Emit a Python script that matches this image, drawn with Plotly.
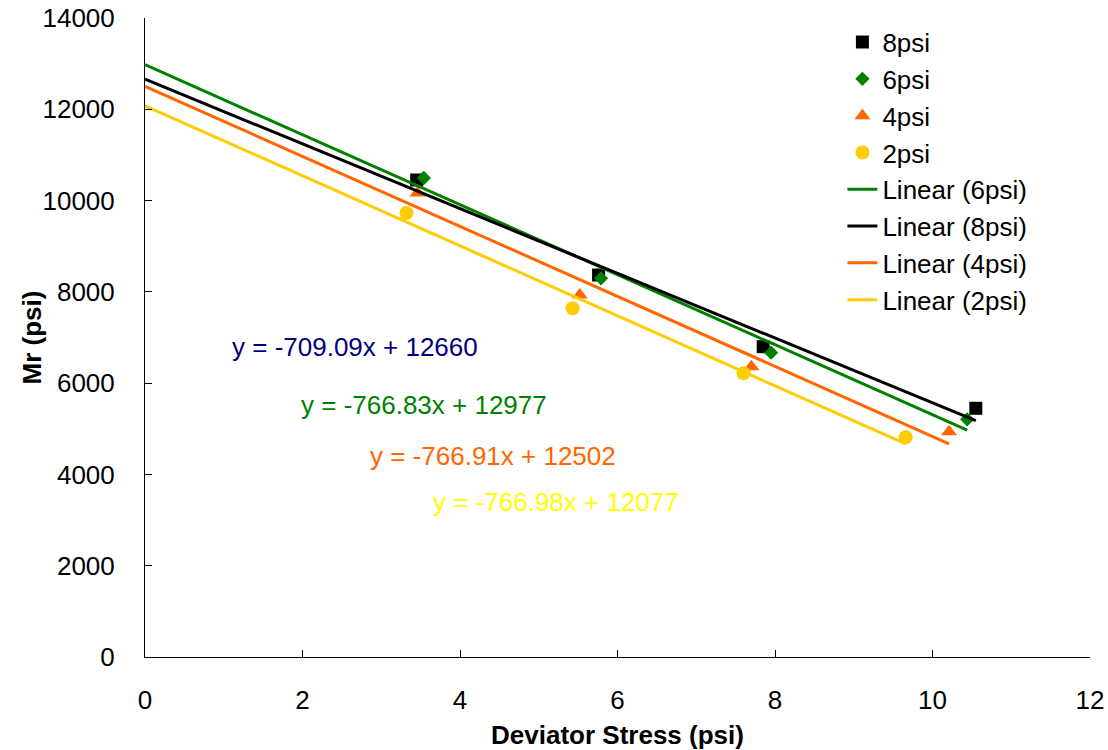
import plotly.graph_objects as go

# ---- data ----
x_8psi = [3.45, 5.76, 7.85, 10.55]
y_8psi = [10451, 8369, 6798, 5449]
x_6psi = [3.54, 5.79, 7.95, 10.44]
y_6psi = [10494, 8297, 6667, 5208]
x_4psi = [3.46, 5.52, 7.70, 10.21]
y_4psi = [10166, 7931, 6361, 4937]
x_2psi = [3.32, 5.43, 7.60, 9.66]
y_2psi = [9727, 7640, 6216, 4813]

series_names = ["8psi", "6psi", "4psi", "2psi"]
slopes = {"8psi": -709.09, "6psi": -766.83, "4psi": -766.91, "2psi": -766.98}
intercepts = {"8psi": 12660, "6psi": 12977, "4psi": 12502, "2psi": 12077}

x_ticks = [0, 2, 4, 6, 8, 10, 12]
y_ticks = [0, 2000, 4000, 6000, 8000, 10000, 12000, 14000]

FONT = "Arial, 'Liberation Sans', sans-serif"
FS = 26
colors = {"8psi": "#000000", "6psi": "#008000", "4psi": "#FF6600", "2psi": "#FFCC00"}
symbols = {"8psi": "square", "6psi": "diamond", "4psi": "triangle-up", "2psi": "circle"}
msizes = {"8psi": 13, "6psi": 11, "4psi": 14, "2psi": 14}
eq_colors = {"8psi": "#000080", "6psi": "#008000", "4psi": "#FF6600", "2psi": "#FFFF00"}
eq_pos = {"8psi": (2.667, 6792), "6psi": (3.543, 5521), "4psi": (4.419, 4404), "2psi": (5.219, 3396)}

data = {"8psi": (x_8psi, y_8psi), "6psi": (x_6psi, y_6psi),
        "4psi": (x_4psi, y_4psi), "2psi": (x_2psi, y_2psi)}

fig = go.Figure()
for name in series_names:
    xs, ys = data[name]
    fig.add_trace(go.Scatter(
        x=xs, y=ys, mode="markers", name=name,
        marker=dict(symbol=symbols[name], size=msizes[name], color=colors[name],
                    line=dict(width=0)),
    ))

for name in ["6psi", "8psi", "4psi", "2psi"]:
    xs, _ = data[name]
    lx = [0, max(xs)]
    ly = [slopes[name] * v + intercepts[name] for v in lx]
    fig.add_trace(go.Scatter(
        x=lx, y=ly, mode="lines", name=f"Linear ({name})",
        line=dict(color=colors[name], width=3),
    ))

for name in series_names:
    ex, ey = eq_pos[name]
    sign = "+" if intercepts[name] >= 0 else "-"
    txt = f"y = {slopes[name]:.2f}x {sign} {abs(intercepts[name])}"
    fig.add_annotation(x=ex, y=ey, xref="x", yref="y", text=txt, showarrow=False,
                       font=dict(family=FONT, size=FS, color=eq_colors[name]),
                       xanchor="center", yanchor="middle")

# y-axis title placed as rotated text
fig.add_annotation(x=-0.1196, y=0.5, xref="paper", yref="paper", text="<b>Mr (psi)</b>",
                   textangle=-90, showarrow=False, xanchor="center", yanchor="middle",
                   font=dict(family=FONT, size=FS, color="black"))

fig.update_layout(
    width=1108, height=750,
    margin=dict(l=145, r=18, t=18, b=93, autoexpand=False),
    paper_bgcolor="white", plot_bgcolor="white",
    font=dict(family=FONT, size=FS, color="black"),
    showlegend=True,
    legend=dict(x=0.738, y=0.999, xanchor="left", yanchor="top",
                font=dict(family=FONT, size=FS, color="black"),
                bgcolor="rgba(0,0,0,0)", tracegroupgap=0),
    xaxis=dict(range=[0, 12], tickvals=x_ticks, ticktext=[str(v) for v in x_ticks],
               automargin=False,
               showgrid=False, zeroline=False, showline=True, linecolor="black", linewidth=1,
               ticks="inside", ticklen=7, tickcolor="black", ticklabelstandoff=20,
               title=dict(text="<b>Deviator Stress (psi)</b>", font=dict(family=FONT, size=FS), standoff=11)),
    yaxis=dict(range=[0, 14000], tickvals=y_ticks, ticktext=[str(v) for v in y_ticks],
               automargin=False,
               showgrid=False, zeroline=False, showline=True, linecolor="black", linewidth=1,
               ticks="inside", ticklen=7, tickcolor="black", ticklabelstandoff=24),
)

fig.write_html("out.html")
